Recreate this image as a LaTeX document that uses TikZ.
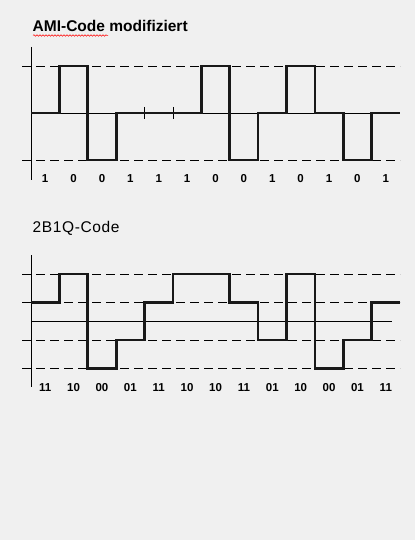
\documentclass[tikz,border=0pt]{standalone}
\usepackage{fontspec}
\setmainfont{Liberation Sans}
\usetikzlibrary{decorations.pathmorphing}
\definecolor{bg}{HTML}{F0F0F0}
\tikzset{
  thinline/.style={line width=0.8pt, black},
  dashline/.style={line width=0.8pt, black, dash pattern=on 9pt off 5pt},
  signal/.style={line width=2.7pt, black!90, line join=miter},
  bitlabel/.style={font=\fontsize{11.5}{12}\selectfont\bfseries, inner sep=0pt, anchor=base},
  title/.style={inner sep=0pt, anchor=base west}
}
\begin{document}
\begin{tikzpicture}[x=1pt,y=-1pt]
\fill[bg] (0,0) rectangle (415,540);
\useasboundingbox (0,0) rectangle (415,540);
% ---------- AMI ----------
\node[title, font=\fontsize{15.5}{16}\selectfont\bfseries] (t1) at (32.5,32) {AMI-Code modifiziert};
\draw[red, line width=0.5pt, decorate, decoration={snake, amplitude=0.8pt, segment length=3pt}] (33,35.5) -- (108,35.5);
\coordinate (a0) at (31,47);
\coordinate (a1) at (31,180);
\draw[thinline] (a0) -- (a1);
\draw[dashline] (22,66) -- (400,66);
\draw[dashline] (22,160) -- (400,160);
\draw[thinline] (31,113) -- (400,113);
\draw[thinline] (144.54,107) -- (144.54,119);
\draw[thinline] (172.92,107) -- (172.92,119);
\draw[signal] (31,113) -- (59.38,113) -- (59.38,66) -- (87.77,66) -- (87.77,160) -- (116.15,160) -- (116.15,113) -- (201.31,113) -- (201.31,66) -- (229.69,66) -- (229.69,160) -- (258.08,160) -- (258.08,113) -- (286.46,113) -- (286.46,66) -- (314.85,66) -- (314.85,113) -- (343.23,113) -- (343.23,160) -- (371.62,160) -- (371.62,113) -- (400,113);
\foreach \b [count=\i from 0] in {1,0,0,1,1,1,0,0,1,0,1,0,1}
  \node[bitlabel] (ab\i) at ({31+28.385*(\i+0.5)},182.3) {\b};
% ---------- 2B1Q ----------
\node[title, font=\fontsize{15.5}{16}\selectfont\addfontfeatures{LetterSpace=4}] (t2) at (32.5,232.3) {2B1Q-Code};
\draw[thinline] (31,255) -- (31,387);
\foreach \yy in {274,302.3,340,368.3}
  \draw[dashline] (22,\yy) -- (400,\yy);
\draw[thinline] (31,321) -- (392,321);
\def\A{274}\def\B{302.3}\def\C{340}\def\D{368.3}
\draw[signal] (31,\B) -- (59.38,\B) -- (59.38,\A) -- (87.77,\A) -- (87.77,\D) -- (116.15,\D) -- (116.15,\C) -- (144.54,\C) -- (144.54,\B) -- (172.92,\B) -- (172.92,\A) -- (229.69,\A) -- (229.69,\B) -- (258.08,\B) -- (258.08,\C) -- (286.46,\C) -- (286.46,\A) -- (314.85,\A) -- (314.85,\D) -- (343.23,\D) -- (343.23,\C) -- (371.62,\C) -- (371.62,\B) -- (400,\B);
\foreach \b [count=\i from 0] in {11,10,00,01,11,10,10,11,01,10,00,01,11}
  \node[bitlabel] (qb\i) at ({31+28.385*(\i+0.5)},391.7) {\b};
\end{tikzpicture}
\end{document}
